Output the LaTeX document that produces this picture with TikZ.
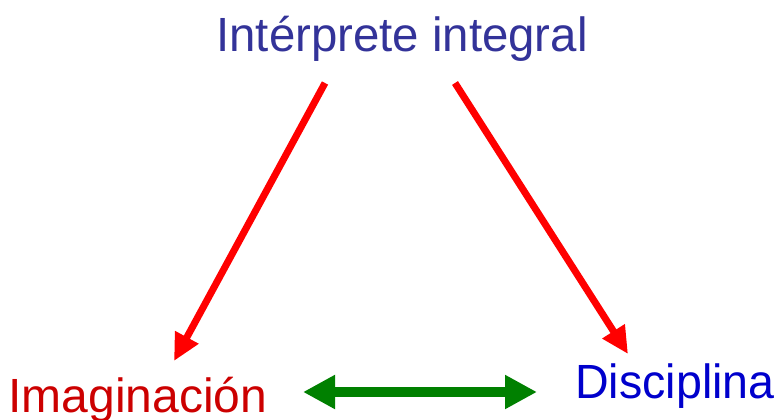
\documentclass[tikz,border=0pt]{standalone}
\usepackage{fontspec}
\setmainfont{Liberation Sans}
\usetikzlibrary{arrows.meta}
\definecolor{titleblue}{HTML}{333399}
\definecolor{imgred}{HTML}{CC0000}
\definecolor{disblue}{HTML}{0000CC}
\definecolor{arrred}{HTML}{FF0000}
\definecolor{arrgreen}{HTML}{008000}
\begin{document}
\begin{tikzpicture}[x=1pt,y=-1pt,
  lbl/.style={inner sep=0pt,anchor=base,font=\fontsize{48}{56}\selectfont},
  redarrow/.style={draw=arrred,line width=7pt,-{Triangle[length=27pt,width=25pt]}},
  greenarrow/.style={draw=arrgreen,line width=10pt,{Triangle[length=32pt,width=32pt]}-{Triangle[length=32pt,width=32pt]}}]
\useasboundingbox (0,0) rectangle (777,420);
\node[lbl,text=titleblue,xscale=0.987] (title) at (402,52) {Intérprete integral};
\node[lbl,text=imgred] (imag) at (138,412) {Imaginación};
\node[lbl,text=disblue,xscale=0.97] (disc) at (675,398) {Disciplina};
\coordinate (t1) at (325,83);
\coordinate (t2) at (455,83);
\coordinate (i1) at (174,361);
\coordinate (d1) at (628,354);
\coordinate (g1) at (303,392);
\coordinate (g2) at (537,392);
\draw[redarrow] (t1) -- (i1);
\draw[redarrow] (t2) -- (d1);
\draw[greenarrow] (g1) -- (g2);
\end{tikzpicture}
\end{document}
